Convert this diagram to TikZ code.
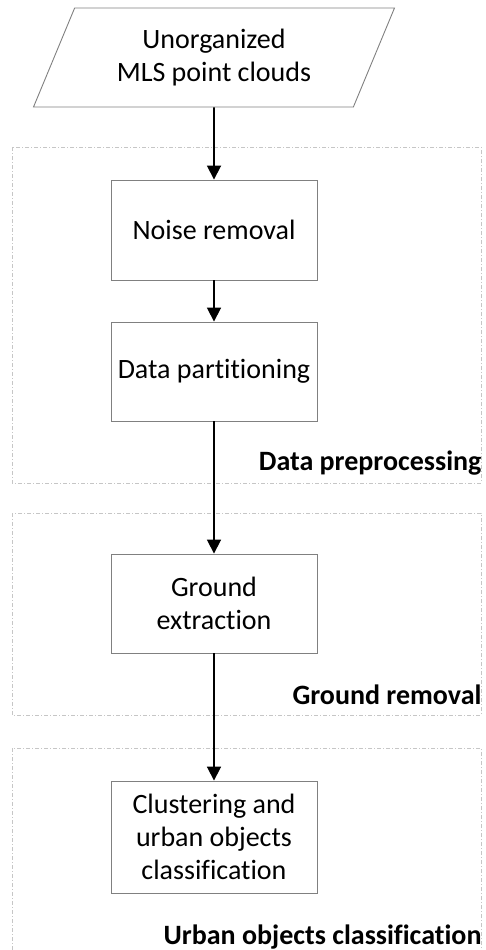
\documentclass[tikz,border=0pt]{standalone}
\usepackage{fontspec}
\setmainfont[Ligatures=NoCommon]{Carlito}
\usetikzlibrary{shapes.geometric,arrows.meta}

\tikzset{
  stepbox/.style={draw=gray, line width=0.9pt, minimum width=206pt, align=center, font=\fontsize{28}{33}\selectfont},
  inputbox/.style={trapezium, trapezium left angle=65, trapezium right angle=115, trapezium stretches=true,
    draw=gray, line width=0.9pt, minimum width=362pt, minimum height=99pt, align=center,
    font=\fontsize{28}{33}\selectfont},
  stage/.style={draw=gray!45, line width=1pt, dash pattern=on 4pt off 2pt on 1pt off 2pt},
  stagelabel/.style={anchor=east, font=\fontsize{28}{32}\selectfont\bfseries},
  flow/.style={-{Triangle[width=14pt,length=14pt]}, line width=1.8pt}
}

\begin{document}
\begin{tikzpicture}[x=1pt,y=-1pt]
\useasboundingbox (0,0) rectangle (486,950);
\clip (0,0) rectangle (486,950);

% stages
\draw[stage] (12,147) rectangle (481,483);
\draw[stage] (12,513) rectangle (481,715);
\draw[stage] (12,748) rectangle (481,990);

\node[stagelabel] (lpre) at (485,463) {Data preprocessing};
\node[stagelabel] (lground) at (485,695) {Ground removal};
\node[stagelabel] (lurban) at (485,937) {Urban objects classification};

% steps
\node[inputbox] (input) at (214,57.5) {Unorganized\\MLS point clouds};
\node[stepbox, minimum height=100pt] (noise) at (214,230) {Noise removal};
\node[stepbox, minimum height=99pt] (part) at (214,371.5) {Data partitioning};
\node[stepbox, minimum height=99pt] (ground) at (214,603.5) {Ground\\extraction};
\node[stepbox, minimum height=112pt] (urban) at (214,837) {Clustering and\\urban objects\\classification};

\draw[flow] (input) -- (noise);
\draw[flow] (noise) -- (part);
\draw[flow] (part) -- (ground);
\draw[flow] (ground) -- (urban);

\end{tikzpicture}
\end{document}
